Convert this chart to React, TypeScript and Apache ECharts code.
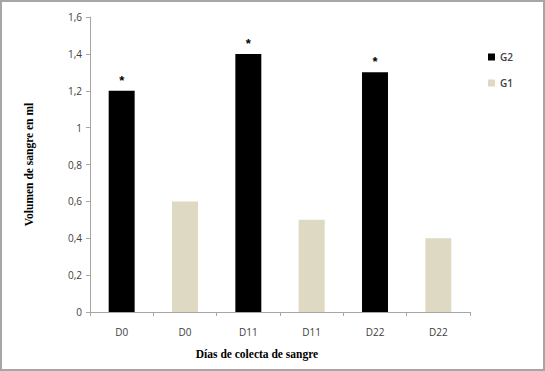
import React, { useEffect, useRef } from "react";
import * as echarts from "echarts";

const categories = ["D0", "D0", "D11", "D11", "D22", "D22"];
const g2Values: (number | string)[] = [1.2, "-", 1.4, "-", 1.3, "-"];
const g1Values: (number | string)[] = ["-", 0.6, "-", 0.5, "-", 0.4];
const yTicks = { min: 0, max: 1.6, interval: 0.2 };
const xTitle = "Días de colecta de sangre";
const yTitle = "Volumen de sangre en ml";

export default function App() {
  const ref = useRef<HTMLDivElement>(null);
  useEffect(() => {
    if (!ref.current) return;
    const chart = echarts.init(ref.current, null, { renderer: "svg" });
    chart.setOption({
      animation: false,
      backgroundColor: "#ffffff",
      graphic: [
        {
          type: "rect",
          shape: { x: 1, y: 1, width: 543, height: 369 },
          style: { fill: "none", stroke: "#a6a6a6", lineWidth: 2 },
          silent: true,
        },
        {
          type: "text",
          x: 257,
          y: 354,
          style: {
            text: xTitle,
            align: "center",
            verticalAlign: "middle",
            fontFamily: "Liberation Serif",
            fontWeight: "bold",
            fontSize: 11.5,
            fill: "#000",
          },
        },
      ],
      grid: { left: 90, right: 75, top: 17, bottom: 59 },
      legend: {
        orient: "vertical",
        left: 483,
        top: 47,
        itemWidth: 7,
        itemHeight: 7,
        itemGap: 16,
        icon: "rect",
        textStyle: { fontFamily: "Open Sans", fontSize: 10, color: "#404040", fontWeight: 600 },
        data: ["G2", "G1"],
      },
      xAxis: {
        type: "category",
        data: categories,
        axisLine: { lineStyle: { color: "#a6a6a6" } },
        axisTick: { show: true, length: 4, lineStyle: { color: "#a6a6a6" } },
        axisLabel: { fontFamily: "Open Sans", fontSize: 10, color: "#404040", margin: 15 },
      },
      yAxis: {
        type: "value",
        min: yTicks.min,
        max: yTicks.max,
        interval: yTicks.interval,
        axisLine: { show: true, lineStyle: { color: "#a6a6a6" } },
        axisTick: { show: true, length: 4, lineStyle: { color: "#a6a6a6" } },
        splitLine: { show: false },
        axisLabel: {
          fontFamily: "Open Sans",
          fontSize: 10,
          color: "#404040",
          margin: 8,
          formatter: (v: number) => String(Math.round(v * 10) / 10).replace(".", ","),
        },
        name: yTitle,
        nameLocation: "middle",
        nameGap: 55,
        nameTextStyle: { fontFamily: "Liberation Serif", fontWeight: "bold", fontSize: 11.5, color: "#000" },
      },
      series: [
        {
          name: "G2",
          type: "bar",
          stack: "s",
          data: g2Values,
          barWidth: "41%",
          itemStyle: { color: "#000000" },
          label: {
            show: true,
            position: "top",
            formatter: "*",
            distance: 4,
            fontSize: 13,
            fontWeight: "bold",
            color: "#000",
            fontFamily: "Liberation Sans",
          },
        },
        {
          name: "G1",
          type: "bar",
          stack: "s",
          data: g1Values,
          barWidth: "41%",
          itemStyle: { color: "#ddd9c3" },
        },
      ],
    });
    return () => chart.dispose();
  }, []);
  return (
    <div
      ref={ref}
      style={{ position: "absolute", left: 0, top: 0, width: 545, height: 371 }}
    />
  );
}
